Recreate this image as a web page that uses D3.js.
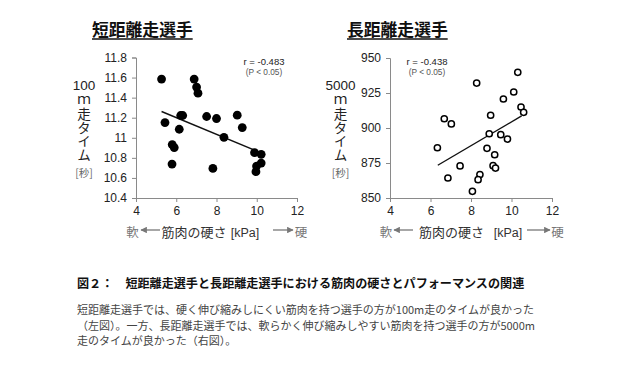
<!DOCTYPE html>
<html><head><meta charset="utf-8">
<script src="https://cdn.jsdelivr.net/npm/d3@7"></script>
<style>
html,body{margin:0;padding:0;background:#fff;}
svg{display:block;}
</style></head>
<body>
<svg id="chart" width="640" height="369"></svg>
<script>
// ---------- data ----------
const xTicks = [4, 6, 8, 10, 12];
const xTickLabels = ["4", "6", "8", "10", "12"];

const sprintTicks = [10.4, 10.6, 10.8, 11.0, 11.2, 11.4, 11.6, 11.8];
const sprintTickLabels = ["10.4", "10.6", "10.8", "11", "11.2", "11.4", "11.6", "11.8"];
const sprintStiffness = [5.27, 5.44, 6.15, 6.22, 6.32, 5.80, 5.90, 5.79, 6.89, 7.01, 7.08, 7.51, 8.00, 7.82, 8.37, 9.03, 9.28, 9.89, 10.22, 9.99, 10.22, 9.96];
const sprintTime = [11.585, 11.152, 11.085, 11.222, 11.222, 10.932, 10.902, 10.738, 11.585, 11.505, 11.445, 11.212, 11.192, 10.695, 11.005, 11.225, 11.102, 10.852, 10.835, 10.718, 10.748, 10.662];
const sprintFitX = [5.27, 10.12];
const sprintFitY = [11.262, 10.858];

const distanceTicks = [850, 875, 900, 925, 950];
const distanceTickLabels = ["850", "875", "900", "925", "950"];
const distanceStiffness = [6.68, 7.03, 6.34, 7.46, 6.86, 10.31, 8.28, 10.11, 9.60, 10.47, 10.60, 8.97, 8.90, 9.47, 9.80, 8.79, 9.17, 9.09, 9.21, 8.44, 8.35, 8.07];
const distanceTime = [906.6, 902.9, 885.9, 872.9, 864.3, 939.8, 932.1, 925.7, 920.7, 915.0, 911.2, 909.1, 895.9, 895.2, 892.1, 885.5, 880.9, 873.1, 871.4, 866.7, 863.1, 854.8];
const distanceFitX = [6.36, 10.5];
const distanceFitY = [873.4, 908.6];

const titles = ["短距離走選手", "長距離走選手"];
const yLabelTop = ["100", "5000"];
const yLabelVertical = "ｍ走タイム";
const yLabelUnit = "[秒]";
const rLabels = ["r = -0.483", "r = -0.438"];
const pLabel = "(P < 0.05)";
const xLabel = "筋肉の硬さ", xUnit = "[kPa]", softLabel = "軟", hardLabel = "硬";

const captionTitle = "図２：　短距離走選手と長距離走選手における筋肉の硬さとパフォーマンスの関連";
const captionLines = [
  "短距離走選手では、硬く伸び縮みしにくい筋肉を持つ選手の方が100m走のタイムが良かった",
  "（左図）。一方、長距離走選手では、軟らかく伸び縮みしやすい筋肉を持つ選手の方が5000m",
  "走のタイムが良かった（右図）。"
];

// ---------- drawing ----------
const svg = d3.select("#chart");
const JP = "'Noto Sans CJK JP', 'Noto Sans', sans-serif";
const AR = "'Liberation Sans', Arial, sans-serif";

svg.append("defs").append("marker")
  .attr("id", "arrow").attr("viewBox", "0 0 10 10").attr("refX", 9).attr("refY", 5)
  .attr("markerWidth", 5).attr("markerHeight", 5).attr("orient", "auto-start-reverse")
  .append("path").attr("d", "M0,0 L10,5 L0,10 z").attr("fill", "#777");

const panels = [
  {x0: 136, x1: 297, y0: 198, y1: 57.5, yDomain: [10.4, 11.8], ticks: sprintTicks, tickLabels: sprintTickLabels,
   xs: sprintStiffness, ys: sprintTime, fx: sprintFitX, fy: sprintFitY, filled: true,
   title: titles[0], titleX: 92, labelX: 84, top: yLabelTop[0], r: rLabels[0], rX: 264,
   softX: 132.5, arrL: [160, 141], xlabX: 194, unitX: 245, arrR: [273, 293], hardX: 301},
  {x0: 390, x1: 552, y0: 198, y1: 58, yDomain: [850, 950], ticks: distanceTicks, tickLabels: distanceTickLabels,
   xs: distanceStiffness, ys: distanceTime, fx: distanceFitX, fy: distanceFitY, filled: false,
   title: titles[1], titleX: 347, labelX: 340.5, top: yLabelTop[1], r: rLabels[1], rX: 427,
   softX: 386, arrL: [413, 394], xlabX: 451.5, unitX: 508, arrR: [527, 550], hardX: 557.5}
];

panels.forEach(p => {
  const g = svg.append("g");
  const x = d3.scaleLinear().domain([4, 12]).range([p.x0, p.x1]);
  const y = d3.scaleLinear().domain(p.yDomain).range([p.y0, p.y1]);

  // title
  const t = g.append("text").attr("x", p.titleX).attr("y", 36)
    .attr("font-family", JP).attr("font-weight", "bold").attr("font-size", 16.8)
    .attr("fill", "#111").text(p.title);
  const tw = t.node().getComputedTextLength();
  g.append("line").attr("x1", p.titleX).attr("x2", p.titleX + tw).attr("y1", 39).attr("y2", 39)
    .attr("stroke", "#111").attr("stroke-width", 1.3);

  // axes
  const yAxis = d3.axisLeft(y).tickValues(p.ticks).tickSize(4).tickPadding(5)
    .tickFormat((d, i) => p.tickLabels[i]);
  const xAxis = d3.axisBottom(x).tickValues(xTicks).tickSize(4).tickPadding(4)
    .tickFormat((d, i) => xTickLabels[i]);
  const ya = g.append("g").attr("transform", `translate(${p.x0},0)`).call(yAxis);
  const xa = g.append("g").attr("transform", `translate(0,${p.y0})`).call(xAxis);
  [ya, xa].forEach(a => {
    a.select(".domain").attr("stroke", "#8a8a8a");
    a.selectAll(".tick line").attr("stroke", "#8a8a8a");
    a.selectAll("text").attr("font-family", AR).attr("font-size", 12).attr("fill", "#222");
  });

  // y label: number on top, vertical kana/kanji below, unit at bottom
  g.append("text").attr("x", p.labelX).attr("y", 90).attr("text-anchor", "middle")
    .attr("font-family", AR).attr("font-size", 13.5).attr("fill", "#222").text(p.top);
  g.append("text").attr("x", p.labelX).attr("y", 93.5)
    .attr("writing-mode", "vertical-rl").attr("text-orientation", "upright")
    .attr("font-family", JP).attr("font-size", 13.6).attr("fill", "#222").text(yLabelVertical);
  g.append("text").attr("x", p.labelX).attr("y", 176.5).attr("text-anchor", "middle")
    .attr("font-family", JP).attr("font-size", 10.5).attr("fill", "#666").text(yLabelUnit);

  // r label
  g.append("text").attr("x", p.rX).attr("y", 65).attr("text-anchor", "middle")
    .attr("font-family", AR).attr("font-size", 9.5).attr("fill", "#222").text(p.r);
  g.append("text").attr("x", p.rX).attr("y", 75).attr("text-anchor", "middle")
    .attr("font-family", AR).attr("font-size", 8.3).attr("fill", "#555").text(pLabel);

  // fit line
  g.append("line").attr("x1", x(p.fx[0])).attr("y1", y(p.fy[0]))
    .attr("x2", x(p.fx[1])).attr("y2", y(p.fy[1]))
    .attr("stroke", "#111").attr("stroke-width", 1.4);

  // points
  g.selectAll("circle.pt").data(p.xs.map((v, i) => [v, p.ys[i]])).join("circle")
    .attr("class", "pt").attr("cx", d => x(d[0])).attr("cy", d => y(d[1]))
    .attr("r", p.filled ? 4.4 : 3.1)
    .attr("fill", p.filled ? "#000" : "#fff")
    .attr("stroke", "#000").attr("stroke-width", p.filled ? 0 : 1.5);

  // x label
  const ly = 236.5;
  g.append("text").attr("x", p.softX).attr("y", ly).attr("text-anchor", "middle")
    .attr("font-family", JP).attr("font-size", 12.5).attr("fill", "#777").text(softLabel);
  g.append("line").attr("x1", p.arrL[0]).attr("x2", p.arrL[1]).attr("y1", 230).attr("y2", 230)
    .attr("stroke", "#777").attr("stroke-width", 1.3).attr("marker-end", "url(#arrow)");
  g.append("text").attr("x", p.xlabX).attr("y", ly).attr("text-anchor", "middle")
    .attr("font-family", JP).attr("font-size", 13).attr("fill", "#333").text(xLabel);
  g.append("text").attr("x", p.unitX).attr("y", ly).attr("text-anchor", "middle")
    .attr("font-family", AR).attr("font-size", 12.5).attr("fill", "#333").text(xUnit);
  g.append("line").attr("x1", p.arrR[0]).attr("x2", p.arrR[1]).attr("y1", 230).attr("y2", 230)
    .attr("stroke", "#777").attr("stroke-width", 1.3).attr("marker-end", "url(#arrow)");
  g.append("text").attr("x", p.hardX).attr("y", ly).attr("text-anchor", "middle")
    .attr("font-family", JP).attr("font-size", 12.5).attr("fill", "#777").text(hardLabel);
});

// caption
svg.append("text").attr("x", 77).attr("y", 288).attr("font-family", JP).attr("font-weight", "bold")
  .attr("font-size", 12.1).attr("fill", "#111").text(captionTitle);
captionLines.forEach((l, i) => {
  svg.append("text").attr("x", 77).attr("y", 314 + i * 15.5).attr("font-family", JP)
    .attr("font-size", 11).attr("fill", "#444").text(l);
});
</script>
</body></html>
